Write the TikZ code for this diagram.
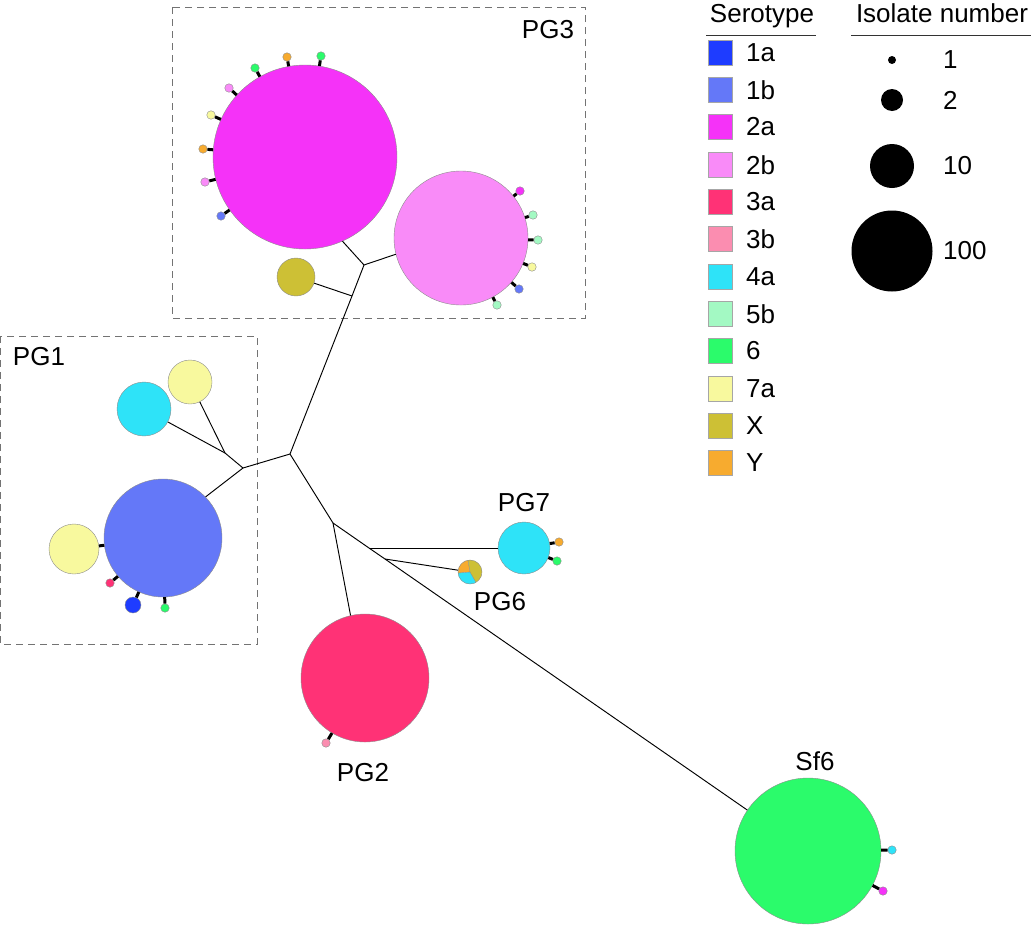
\documentclass[tikz,border=0pt]{standalone}
\usepackage{fontspec}
\setmainfont{Liberation Sans}
\begin{document}
\begin{tikzpicture}[x=1pt,y=-1pt,
  bub/.style={circle,inner sep=0pt,minimum size=#1,draw=black!45,line width=0.4pt},
  sat/.style={circle,inner sep=0pt,minimum size=8.5pt,draw=black!45,line width=0.4pt},
  edge/.style={line width=0.95pt,black},
  stub/.style={line width=3pt,black},
  grp/.style={draw=black!55,dash pattern=on 7pt off 5pt,line width=1pt},
  lbl/.style={font=\fontsize{26}{29}\selectfont,inner sep=0pt},
  key/.style={draw=black!35,line width=0.6pt,minimum size=24.5pt,inner sep=0pt},
  dot/.style={circle,fill=black,inner sep=0pt,minimum size=#1}
]
\definecolor{c1a}{RGB}{30,60,255}
\definecolor{c1b}{RGB}{100,120,248}
\definecolor{c2a}{RGB}{245,50,248}
\definecolor{c2b}{RGB}{249,139,248}
\definecolor{c3a}{RGB}{255,50,118}
\definecolor{c3b}{RGB}{251,141,176}
\definecolor{c4a}{RGB}{46,227,248}
\definecolor{c5b}{RGB}{163,249,195}
\definecolor{c6}{RGB}{43,251,107}
\definecolor{c7a}{RGB}{248,249,158}
\definecolor{cX}{RGB}{205,192,53}
\definecolor{cY}{RGB}{247,171,47}
\useasboundingbox (0,0) rectangle (1033,927);

% group boxes
\draw[grp] (172,7) rectangle (585,318);
\draw[grp] (0,336) rectangle (257,644);
\node[lbl] (tpg3) at (548,30) {PG3};
\node[lbl] (tpg1) at (39,357) {PG1};

% main bubbles
\node[bub=184pt,fill=c2a] (mag) at (305,157) {};
\node[bub=134pt,fill=c2b] (pnk) at (461,238) {};
\node[bub=38pt,fill=cX] (olv) at (296,277) {};
\node[bub=54pt,fill=c4a] (cy1) at (144,409) {};
\node[bub=44pt,fill=c7a] (ye1) at (190,382) {};
\node[bub=118pt,fill=c1b] (b1b) at (163,538) {};
\node[bub=50pt,fill=c7a] (ye2) at (74,549) {};
\node[bub=52pt,fill=c4a] (pg7) at (524,548) {};
\node[bub=24pt,draw=none] (pg6) at (470,572) {};
\node[bub=128pt,fill=c3a] (pg2) at (365,678) {};
\node[bub=146pt,fill=c6] (sf6) at (808,851) {};

% PG6 pie
\fill[cY] (pg6.center) -- ++(100:12pt) arc[start angle=100,end angle=185,radius=12pt] -- cycle;
\fill[c4a] (pg6.center) -- ++(185:12pt) arc[start angle=185,end angle=300,radius=12pt] -- cycle;
\fill[cX] (pg6.center) -- ++(300:12pt) arc[start angle=300,end angle=460,radius=12pt] -- cycle;
\draw[black!45,line width=0.4pt] (pg6.center) circle[radius=12pt];
\draw[black!45,line width=0.4pt] (pg6.center) -- ++(100:12pt) (pg6.center) -- ++(185:12pt) (pg6.center) -- ++(300:12pt);

% labels
\node[lbl] (tpg7) at (524,503) {PG7};
\node[lbl] (tpg6) at (500,602) {PG6};
\node[lbl] (tpg2) at (363,773) {PG2};
\node[lbl] (tsf6) at (815,761) {Sf6};

% junctions
\coordinate (ja) at (364,265);
\coordinate (jb) at (352,296);
\coordinate (jm) at (290,454);
\coordinate (jp) at (243,468);
\coordinate (jq) at (225,453);
\coordinate (jl) at (333,523);
\coordinate (j7) at (369,548);
\coordinate (j6) at (385,559);

% tree edges
\draw[edge] (mag.-66) -- (ja);
\draw[edge] (ja) -- (pnk.194);
\draw[edge] (olv) -- (jb);
\draw[edge] (ja) -- (jb) -- (jm);
\draw[edge] (jm) -- (jp);
\draw[edge] (jp) -- (jq);
\draw[edge] (jq) -- (cy1);
\draw[edge] (jq) -- (ye1);
\draw[edge] (jp) -- (b1b.44);
\draw[edge] (jm) -- (jl);
\draw[edge] (jl) -- (pg2.103);
\draw[edge] (jl) -- (j7) -- (j6) -- (sf6.146);
\draw[edge] (j7) -- (pg7);
\draw[edge] (j6) -- (pg6);

% satellites of 2a
\node[sat,fill=c6] (m1) at (321,56) {};
\node[sat,fill=cY] (m2) at (287,57) {};
\node[sat,fill=c6] (m3) at (255,68) {};
\node[sat,fill=c2b] (m4) at (229,88) {};
\node[sat,fill=c7a] (m5) at (211,115) {};
\node[sat,fill=cY] (m6) at (203,149) {};
\node[sat,fill=c2b] (m7) at (205,182) {};
\node[sat,fill=c1b] (m8) at (221,216) {};
\foreach \s in {m1,m2,m3,m4,m5,m6,m7,m8} \draw[stub] (\s) -- (mag);
% satellites of 2b
\node[sat,fill=c2a] (p1) at (520,191) {};
\node[sat,fill=c5b] (p2) at (533,215) {};
\node[sat,fill=c5b] (p3) at (538,240) {};
\node[sat,fill=c7a] (p4) at (532,267) {};
\node[sat,fill=c1b] (p5) at (519,289) {};
\node[sat,fill=c5b] (p6) at (497,305) {};
\foreach \s in {p1,p2,p3,p4,p5,p6} \draw[stub] (\s) -- (pnk);
% satellites of 1b
\draw[stub] (ye2) -- (b1b);
\node[sat,fill=c3a] (b1) at (110,583) {};
\node[bub=16pt,fill=c1a] (b2) at (133,605) {};
\node[sat,fill=c6] (b3) at (165,608) {};
\foreach \s in {b1,b2,b3} \draw[stub] (\s) -- (b1b);
% satellites of PG7
\node[sat,fill=cY] (g1) at (559,542) {};
\node[sat,fill=c6] (g2) at (557,561) {};
\foreach \s in {g1,g2} \draw[stub] (\s) -- (pg7);
% satellite of PG2
\node[sat,fill=c3b] (r1) at (326,743) {};
\draw[stub] (r1) -- (pg2);
% satellites of Sf6
\node[sat,fill=c4a] (s1) at (892,850) {};
\node[sat,fill=c2a] (s2) at (883,891) {};
\foreach \s in {s1,s2} \draw[stub] (\s) -- (sf6);

% legend: serotype
\node[lbl,anchor=base] (hser) at (762,22) {Serotype};
\draw[line width=0.7pt,black!80] (706,35) -- (816,35);
\foreach \c/\t/\y in {c1a/1a/53,c1b/1b/90,c2a/2a/127,c2b/2b/165,c3a/3a/202,c3b/3b/239,c4a/4a/277,c5b/5b/314,c6/6/351,c7a/7a/389,cX/X/426,cY/Y/463}{
  \node[key,fill=\c] (k\t) at (720.5,\y) {};
  \node[lbl,anchor=west] (l\t) at (746,\y) {\t};
}
% legend: isolate number
\node[lbl,anchor=base] (hiso) at (942,22) {Isolate number};
\draw[line width=0.7pt,black!80] (851,35) -- (1031,35);
\node[dot=8pt] (d1) at (892,60) {};
\node[dot=22pt] (d2) at (892,100) {};
\node[dot=44pt] (d10) at (892,166) {};
\node[dot=81pt] (d100) at (892,251) {};
\node[lbl,anchor=west] (n1) at (943,60) {1};
\node[lbl,anchor=west] (n2) at (943,100) {2};
\node[lbl,anchor=west] (n10) at (943,166) {10};
\node[lbl,anchor=west] (n100) at (943,251) {100};
\end{tikzpicture}
\end{document}
